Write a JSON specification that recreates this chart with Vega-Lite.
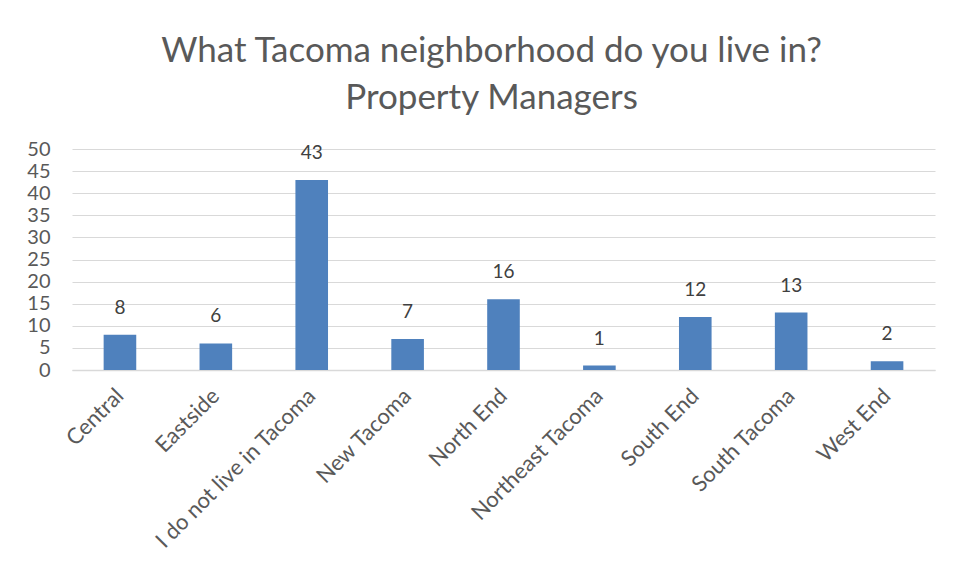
{
  "$schema": "https://vega.github.io/schema/vega-lite/v6.json",
  "autosize": "none",
  "width": 863,
  "height": 221,
  "padding": {"left": 72, "top": 149, "right": 29, "bottom": 207},
  "background": "white",
  "title": {
    "text": ["What Tacoma neighborhood do you live in?", "Property Managers"],
    "font": "Lato",
    "fontSize": 35,
    "fontWeight": "normal",
    "color": "#595959",
    "lineHeight": 47,
    "anchor": "middle",
    "dx": -12,
    "offset": 23
  },
  "data": {
    "values": [
      {"neighborhood": "Central", "count": 8},
      {"neighborhood": "Eastside", "count": 6},
      {"neighborhood": "I do not live in Tacoma", "count": 43},
      {"neighborhood": "New Tacoma", "count": 7},
      {"neighborhood": "North End", "count": 16},
      {"neighborhood": "Northeast Tacoma", "count": 1},
      {"neighborhood": "South End", "count": 12},
      {"neighborhood": "South Tacoma", "count": 13},
      {"neighborhood": "West End", "count": 2}
    ]
  },
  "encoding": {
    "x": {
      "field": "neighborhood",
      "type": "nominal",
      "sort": null,
      "scale": {"paddingInner": 0, "paddingOuter": 0},
      "axis": {
        "title": null,
        "labelAngle": -45,
        "labelAlign": "right",
        "labelBaseline": "middle",
        "labelLimit": 0,
        "labelFont": "Lato",
        "labelFontSize": 22,
        "labelColor": "#595959",
        "labelPadding": 22,
        "ticks": false,
        "domainColor": "#d9d9d9",
        "domainWidth": 1.5,
        "grid": false
      }
    },
    "y": {
      "field": "count",
      "type": "quantitative",
      "scale": {"domain": [0, 50], "nice": false},
      "axis": {
        "title": null,
        "values": [0, 5, 10, 15, 20, 25, 30, 35, 40, 45, 50],
        "labelFont": "Lato",
        "labelFontSize": 20,
        "labelColor": "#595959",
        "labelPadding": 22,
        "ticks": false,
        "domain": false,
        "gridColor": "#d9d9d9",
        "gridWidth": 1
      }
    }
  },
  "layer": [
    {
      "mark": {"type": "bar", "color": "#4F81BD", "width": {"band": 0.34}}
    },
    {
      "mark": {"type": "text", "baseline": "alphabetic", "dy": -21, "font": "Lato", "fontSize": 19, "color": "#404040"},
      "encoding": {"text": {"field": "count", "type": "quantitative"}}
    }
  ],
  "config": {"view": {"stroke": null}}
}
